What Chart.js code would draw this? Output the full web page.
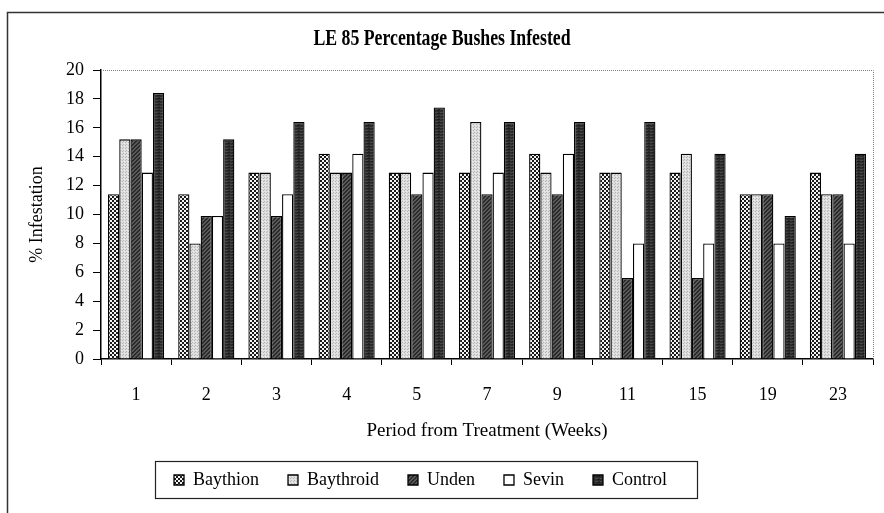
<!DOCTYPE html>
<html><head><meta charset="utf-8">
<script src="https://cdn.jsdelivr.net/npm/chart.js@4.4.1/dist/chart.umd.min.js"></script>
<style>html,body{margin:0;padding:0;background:#fff;overflow:hidden;}</style>
</head><body>
<canvas id="c" width="884" height="513"></canvas>
<script>
// ---- data ----
const weeks = ['1','2','3','4','5','7','9','11','15','19','23'];
const seriesNames = ['Baythion','Baythroid','Unden','Sevin','Control'];
const baythion  = [11.4, 11.4, 12.9, 14.2, 12.9, 12.9, 14.2, 12.9, 12.9, 11.4, 12.9];
const baythroid = [15.2,  8.0, 12.9, 12.9, 12.9, 16.4, 12.9, 12.9, 14.2, 11.4, 11.4];
const unden     = [15.2,  9.9,  9.9, 12.9, 11.4, 11.4, 11.4,  5.6,  5.6, 11.4, 11.4];
const sevin     = [12.9,  9.9, 11.4, 14.2, 12.9, 12.9, 14.2,  8.0,  8.0,  8.0,  8.0];
const control   = [18.4, 15.2, 16.4, 16.4, 17.4, 16.4, 16.4, 16.4, 14.2,  9.9, 14.2];
const yTicks = [0,2,4,6,8,10,12,14,16,18,20];
const chartTitle = 'LE 85 Percentage Bushes Infested';
const xTitle = 'Period from Treatment (Weeks)';
const yTitle = '% Infestation';

// ---- fill patterns ----
function makePattern(w, h, painter){
  const c = document.createElement('canvas'); c.width = w; c.height = h;
  const g = c.getContext('2d'); painter(g, w, h);
  return g.createPattern(c, 'repeat');
}
const patBaythion = makePattern(4,4,(g,w,h)=>{
  g.fillStyle='#f4f4f4'; g.fillRect(0,0,w,h); g.fillStyle='#1a1a1a';
  for(let y=0;y<h;y++)for(let x=0;x<w;x++){
    if((Math.floor(x/2)+Math.floor(y/2))%2===0) g.fillRect(x,y,1,1);
  }
});
const patBaythroid = makePattern(3,3,(g,w,h)=>{
  g.fillStyle='#dedede'; g.fillRect(0,0,w,h);
  g.fillStyle='#b4b4b4'; g.fillRect(0,0,1,1); g.fillRect(2,1,1,1);
  g.fillStyle='#ececec'; g.fillRect(1,2,1,1);
});
const patUnden = makePattern(4,4,(g,w,h)=>{
  g.fillStyle='#5a5a5a'; g.fillRect(0,0,w,h); g.fillStyle='#2a2a2a';
  for(let y=0;y<h;y++)for(let x=0;x<w;x++){ if((x+y)%4<2) g.fillRect(x,y,1,1); }
});
const patSevin = '#ffffff';
const patControl = makePattern(5,3,(g,w,h)=>{
  g.fillStyle='#2e2e2e'; g.fillRect(0,0,w,h);
  g.fillStyle='#474747'; g.fillRect(0,1,3,1);
  g.fillStyle='#1c1c1c'; g.fillRect(2,2,3,1);
});

const FONT = "'Liberation Serif','Times New Roman',Times,serif";

const plotFrame = {
  id:'plotFrame',
  afterLayout(chart){
    chart.legend.left -= 20; chart.legend.right -= 20;
  },
  beforeDatasetsDraw(chart){
    const {ctx, chartArea:a} = chart;
    ctx.save();
    ctx.strokeStyle='#808080'; ctx.lineWidth=1; ctx.setLineDash([1,1]);
    ctx.beginPath();
    ctx.moveTo(a.left, a.top+0.5); ctx.lineTo(a.right+0.5, a.top+0.5); ctx.lineTo(a.right+0.5, a.bottom);
    ctx.stroke(); ctx.restore();
  },
  afterDraw(chart){
    const ctx = chart.ctx;
    ctx.save();
    ctx.strokeStyle='#333'; ctx.lineWidth=1.5;
    ctx.strokeRect(7.5, 12.5, chart.width+20, chart.height+20);
    const lg = chart.legend; const P = lg.options.labels.padding;
    const contentW = lg.lineWidths[0] - P;
    const x0 = (lg.left + P + lg.right - lg.lineWidths[0]) / 2;
    const cy = lg.top + P + 9;
    ctx.lineWidth=1.2; ctx.strokeStyle='#222';
    ctx.strokeRect(Math.round(x0-19)+0.5, Math.round(cy-19)+0.5, Math.round(contentW+49), 37);
    ctx.restore();
    // condensed bold title, as in the original
    ctx.save();
    ctx.translate(chart.width/2, 39);
    ctx.scale(0.74, 1);
    ctx.font = "bold 24px " + FONT;
    ctx.fillStyle = '#000'; ctx.textAlign='center'; ctx.textBaseline='middle';
    ctx.fillText(chartTitle, 0, 0);
    ctx.restore();
  }
};

const mk = (label, data, bg) => ({label, data, backgroundColor:bg, borderColor:'#000', borderWidth:1.3,
  categoryPercentage:0.8, barPercentage:1.0});

new Chart(document.getElementById('c'), {
  type:'bar',
  data:{
    labels: weeks,
    datasets:[
      mk(seriesNames[0], baythion, patBaythion),
      mk(seriesNames[1], baythroid, patBaythroid),
      mk(seriesNames[2], unden, patUnden),
      mk(seriesNames[3], sevin, patSevin),
      mk(seriesNames[4], control, patControl)
    ]
  },
  options:{
    responsive:false, animation:false, devicePixelRatio:1,
    layout:{padding:{left:8,right:11,top:70,bottom:14}},
    plugins:{
      title:{display:false},
      legend:{display:true, position:'bottom',
        labels:{color:'#000', font:{family:FONT,size:18}, boxWidth:10, boxHeight:10, padding:29}},
      tooltip:{enabled:false}
    },
    scales:{
      x:{
        offset:true,
        grid:{display:true, offset:true, drawOnChartArea:false, drawTicks:true, tickLength:6, color:'#000', lineWidth:1},
        border:{display:true, color:'#000', width:1.5},
        ticks:{color:'#000', font:{family:FONT,size:18}, padding:19, maxRotation:0},
        title:{display:true, text:xTitle, color:'#000', font:{family:FONT,size:19}, padding:{top:4,bottom:0}},
        afterFit(s){ s.height = 83; }
      },
      y:{
        min:0, max:20,
        afterBuildTicks(s){ s.ticks = yTicks.map(v=>({value:v})); },
        grid:{display:true, drawOnChartArea:false, drawTicks:true, tickLength:8, color:'#000', lineWidth:1},
        border:{display:true, color:'#000', width:1.5},
        ticks:{color:'#000', font:{family:FONT,size:18}, padding:9},
        title:{display:true, text:yTitle, color:'#000', font:{family:FONT,size:18}, padding:{top:18,bottom:4}},
        afterFit(s){ s.width = 93; }
      }
    }
  },
  plugins:[plotFrame]
});
</script>
</body></html>
